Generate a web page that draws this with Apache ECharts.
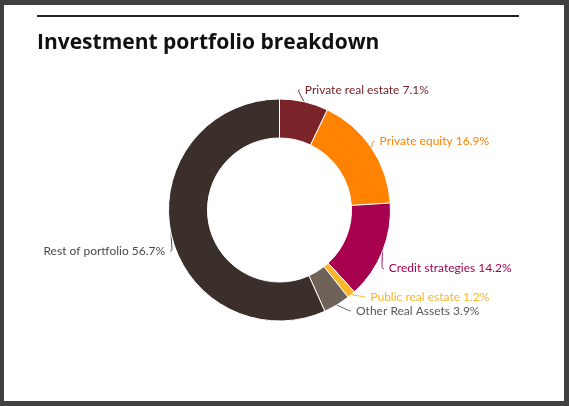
<!DOCTYPE html>
<html>
<head>
<meta charset="utf-8">
<script src="https://cdn.jsdelivr.net/npm/echarts@6/dist/echarts.min.js"></script>
<style>
  html, body { margin: 0; padding: 0; background: #404040; }
  #main { position: absolute; left: 4px; top: 5px; width: 560px; height: 396px; background: #fff; }
</style>
</head>
<body>
<div id="main"></div>
<script>
// portfolio slices, clockwise from 12 o'clock
var categories = ['Private real estate', 'Private equity', 'Credit strategies', 'Public real estate', 'Other Real Assets', 'Rest of portfolio'];
var shares = [7.1, 16.9, 14.2, 1.2, 3.9, 56.7];
var sliceColors = ['#7a2328', '#ff8200', '#a6004f', '#fbb62a', '#6f6359', '#3b2f2b'];
var labelColors = ['#7a2328', '#ff8200', '#a6004f', '#fbb62a', '#5a5a5a', '#4a4a4a'];

// small nudges so the labels sit where the original put them
var labelShift = [[-8, -4], [-1, -2], [-4, 14], [6, -4], [8, -4], [9, 16]];

var chartDom = document.getElementById('main');
var myChart = echarts.init(chartDom);

var pieData = [];
for (var i = 0; i < categories.length; i++) {
  pieData.push({
    name: categories[i],
    value: shares[i],
    itemStyle: { color: sliceColors[i] },
    label: { color: labelColors[i] },
    labelLine: { lineStyle: { color: labelColors[i] } }
  });
}

var option = {
  animation: false,
  title: {
    text: 'Investment portfolio breakdown',
    left: 28,
    top: 23,
    textStyle: { fontFamily: 'Open Sans', fontWeight: 'bold', fontSize: 21, color: '#111' }
  },
  graphic: [
    {
      type: 'line',
      shape: { x1: 33, y1: 11, x2: 515, y2: 11 },
      style: { stroke: '#222', lineWidth: 2 }
    }
  ],
  series: [
    {
      type: 'pie',
      center: [275.5, 205],
      radius: [72, 111],
      startAngle: 90,
      itemStyle: { borderColor: '#fff', borderWidth: 1 },
      label: {
        formatter: function (p) { return p.name + ' ' + p.value.toFixed(1) + '%'; },
        fontFamily: 'Lato',
        fontSize: 12
      },
      labelLine: { length: 8, length2: 2, smooth: 0.4, lineStyle: { width: 1 } },
      labelLayout: function (params) {
        var s = labelShift[params.dataIndex];
        var pts = params.labelLinePoints;
        var out = { dx: s[0], dy: s[1] };
        if (pts) {
          out.labelLinePoints = [
            pts[0].slice(),
            [pts[1][0] + s[0], pts[1][1] + s[1]],
            [pts[2][0] + s[0], pts[2][1] + s[1]]
          ];
        }
        return out;
      },
      data: pieData
    }
  ]
};

option && myChart.setOption(option);
</script>
</body>
</html>
